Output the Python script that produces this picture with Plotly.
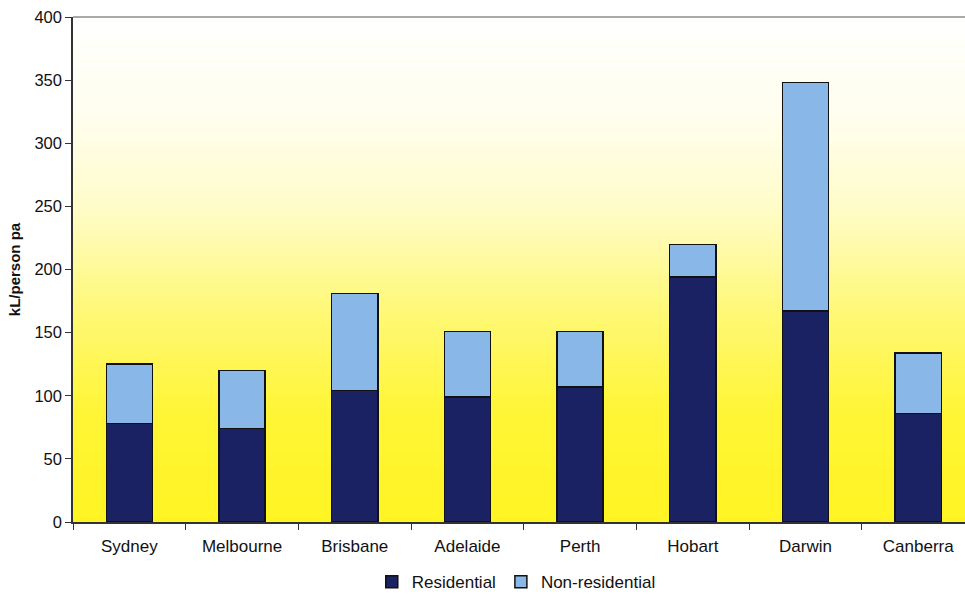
import plotly.graph_objects as go

cities = ["Sydney", "Melbourne", "Brisbane", "Adelaide", "Perth", "Hobart", "Darwin", "Canberra"]
residential = [78, 74, 104, 99, 107, 194, 167, 86]
non_residential = [47, 46, 77, 52, 44, 26, 181, 48]
y_ticks = [0, 50, 100, 150, 200, 250, 300, 350, 400]

FONT = "Liberation Sans, Arial, sans-serif"

fig = go.Figure()
fig.add_trace(go.Bar(x=cities, y=residential, name="Residential",
                     marker=dict(color="#1B2263", line=dict(color="#111111", width=1.5)),
                     width=0.41))
fig.add_trace(go.Bar(x=cities, y=non_residential, name="Non-residential",
                     marker=dict(color="#89B8E8", line=dict(color="#111111", width=1.5)),
                     width=0.41))

# gradient background: white at top to yellow at bottom
stops = [(0.0, (255, 244, 35)), (0.22, (255, 245, 55)), (0.42, (255, 248, 120)),
         (0.62, (255, 252, 200)), (0.8, (255, 254, 238)), (1.0, (255, 255, 255))]
def col(t):
    for (t0, c0), (t1, c1) in zip(stops[:-1], stops[1:]):
        if t0 <= t <= t1:
            f = (t - t0) / (t1 - t0)
            return "rgb(%d,%d,%d)" % tuple(round(a + (b - a) * f) for a, b in zip(c0, c1))
    return "rgb(255,255,255)"
N = 120
shapes = []
for i in range(N):
    y0 = i / N
    y1 = (i + 1) / N + 0.002
    shapes.append(dict(type="rect", xref="paper", yref="paper", x0=0, x1=1, y0=y0, y1=min(y1, 1),
                       fillcolor=col((i + 0.5) / N), line=dict(width=0), layer="below"))
shapes.append(dict(type="line", xref="paper", yref="paper", x0=0, x1=1, y0=1, y1=1,
                   line=dict(color="#555555", width=1.2)))

fig.update_layout(
    width=965, height=594,
    margin=dict(l=73, r=0, t=17, b=72, autoexpand=False),
    barmode="stack",
    paper_bgcolor="white",
    plot_bgcolor="rgba(0,0,0,0)",
    font=dict(family=FONT, size=15, color="#111111"),
    shapes=shapes,
    showlegend=True,
    legend=dict(orientation="h", x=0.535, xref="container", xanchor="center",
                y=0.02, yref="container", yanchor="middle", font=dict(size=17, family=FONT),
                itemwidth=30, traceorder="normal", bgcolor="rgba(0,0,0,0)"),
    bargap=0.59,
)
fig.update_xaxes(range=[-0.5, 7.415], showline=True, linecolor="#333333", linewidth=1.5,
                 ticks="outside", ticklen=6, tickcolor="#333333", tickson="boundaries",
                 showgrid=False, tickfont=dict(size=17, family=FONT), tickangle=0, automargin=False,
                 ticklabelstandoff=8)
fig.update_yaxes(range=[0, 400], tickvals=y_ticks, showline=True, linecolor="#333333", linewidth=1.5,
                 ticks="outside", ticklen=6, tickcolor="#333333", showgrid=False, zeroline=False,
                 tickfont=dict(size=16.5, family=FONT), automargin=False,
                 title=dict(text="<b>kL/person pa</b>", font=dict(size=15, family=FONT), standoff=10))

fig.write_html("out.html")
